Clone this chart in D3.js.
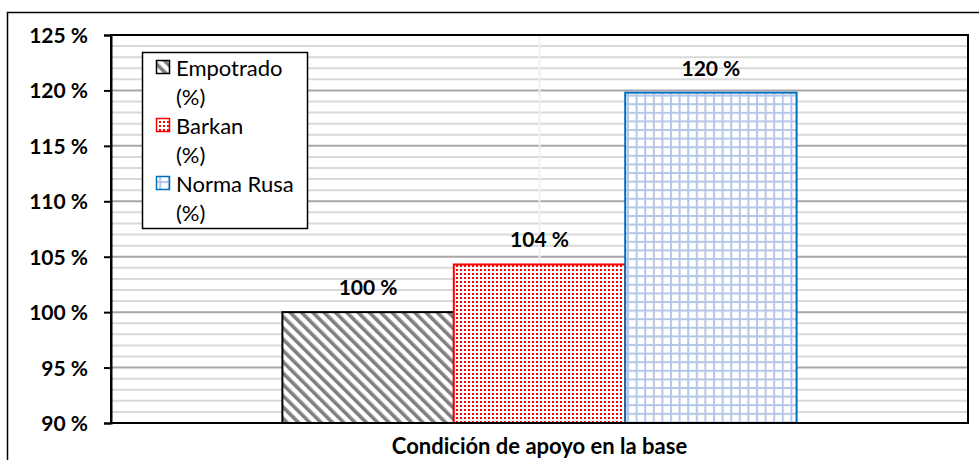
<!DOCTYPE html>
<html>
<head>
<meta charset="utf-8">
<script src="https://cdn.jsdelivr.net/npm/d3@7"></script>
<style>
  body { margin: 0; background: #fff; }
  svg text { font-family: Lato, "Open Sans", sans-serif; fill: #000; }
  .tick-label { font-weight: bold; font-size: 21px; }
  .bar-label { font-weight: bold; font-size: 21px; }
  .axis-title { font-weight: bold; font-size: 22px; }
  .legend-text { font-size: 22px; }
</style>
</head>
<body>
<svg id="chart"></svg>
<script>
// chart values
var categories = ["Condición de apoyo en la base"];
var seriesNames = ["Empotrado", "Barkan", "Norma Rusa"];
var seriesValues = [100, 104.3, 119.8];
var seriesLabels = ["100 %", "104 %", "120 %"];
var yTicks = [90, 95, 100, 105, 110, 115, 120, 125];

var w = 979, h = 460;
// plot area (note: "top" is reserved on window, so use other names)
var plotLeft = 111, plotRight = 968, plotTop = 35, plotBottom = 423;

var svg = d3.select("#chart").attr("width", w).attr("height", h);

// patterns for the bars
var defs = svg.append("defs");
var stripes = defs.append("pattern")
    .attr("id", "pat-stripes")
    .attr("patternUnits", "userSpaceOnUse")
    .attr("width", 8).attr("height", 8)
    .attr("patternTransform", "rotate(-45)");
stripes.append("rect").attr("width", 8).attr("height", 8).attr("fill", "#fff");
stripes.append("rect").attr("width", 3.6).attr("height", 8).attr("fill", "#808080");

var dots = defs.append("pattern")
    .attr("id", "pat-dots")
    .attr("patternUnits", "userSpaceOnUse")
    .attr("width", 4).attr("height", 4);
dots.append("rect").attr("width", 4).attr("height", 4).attr("fill", "#fff");
dots.append("rect").attr("x", 1).attr("y", 1).attr("width", 2).attr("height", 2).attr("fill", "#ff0000");

var grid = defs.append("pattern")
    .attr("id", "pat-grid")
    .attr("patternUnits", "userSpaceOnUse")
    .attr("width", 8.6).attr("height", 8.6);
grid.append("rect").attr("width", 8.6).attr("height", 8.6).attr("fill", "#fff");
grid.append("rect").attr("width", 2).attr("height", 8.6).attr("fill", "#b4c7e7");
grid.append("rect").attr("width", 8.6).attr("height", 2).attr("fill", "#b4c7e7");

var fills = ["url(#pat-stripes)", "url(#pat-dots)", "url(#pat-grid)"];
var strokes = ["#000", "#ff0000", "#0070c0"];

// outer frame (cut off at right/bottom like the picture)
svg.append("rect")
    .attr("x", 7.5).attr("y", 12.5)
    .attr("width", 1000).attr("height", 500)
    .attr("fill", "none").attr("stroke", "#000").attr("stroke-width", 1.5);

var x0 = d3.scaleBand().domain(categories).range([plotLeft, plotRight]).padding(0);
var x1 = d3.scaleBand().domain(seriesNames).range([0, x0.bandwidth()])
    .paddingInner(0).paddingOuter(1);
var y = d3.scaleLinear().domain([90, 125]).range([plotBottom, plotTop]);

// minor gridlines every 1 %
var minor = d3.range(91, 125).filter(function (d) { return d % 5 !== 0; });
svg.append("g").selectAll("line")
    .data(minor).enter().append("line")
    .attr("x1", plotLeft).attr("x2", plotRight)
    .attr("y1", function (d) { return y(d); })
    .attr("y2", function (d) { return y(d); })
    .attr("stroke", "#d9d9d9").attr("stroke-width", 2);

// major gridlines
svg.append("g").selectAll("line")
    .data(yTicks.slice(1, -1)).enter().append("line")
    .attr("x1", plotLeft).attr("x2", plotRight)
    .attr("y1", function (d) { return y(d); })
    .attr("y2", function (d) { return y(d); })
    .attr("stroke", "#aaa6a6").attr("stroke-width", 2);

// vertical gridline at category centre
var cx = x0(categories[0]) + x0.bandwidth() / 2;
svg.append("line")
    .attr("x1", cx).attr("x2", cx)
    .attr("y1", plotTop).attr("y2", plotBottom)
    .attr("stroke", "#f0f0f0").attr("stroke-width", 2);

// bars
var data = seriesNames.map(function (s, i) {
    return { name: s, value: seriesValues[i], label: seriesLabels[i], i: i };
});
var g = svg.append("g").attr("transform", "translate(" + x0(categories[0]) + ",0)");
g.selectAll("rect")
    .data(data).enter().append("rect")
    .attr("x", function (d) { return x1(d.name); })
    .attr("y", function (d) { return y(d.value); })
    .attr("width", x1.bandwidth())
    .attr("height", function (d) { return y(90) - y(d.value); })
    .attr("fill", function (d) { return fills[d.i]; })
    .attr("stroke", function (d) { return strokes[d.i]; })
    .attr("stroke-width", 2);

g.selectAll("text")
    .data(data).enter().append("text")
    .attr("class", "bar-label")
    .attr("x", function (d) { return x1(d.name) + x1.bandwidth() / 2; })
    .attr("y", function (d) { return y(d.value) - 17; })
    .attr("text-anchor", "middle")
    .text(function (d) { return d.label; });

// plot border
svg.append("rect")
    .attr("x", plotLeft).attr("y", plotTop)
    .attr("width", plotRight - plotLeft).attr("height", plotBottom - plotTop)
    .attr("fill", "none").attr("stroke", "#000").attr("stroke-width", 2);

// y axis
var yAxis = d3.axisLeft(y).tickValues(yTicks).tickSize(7).tickPadding(16)
    .tickFormat(function (d) { return d + " %"; });
var ya = svg.append("g").attr("transform", "translate(" + plotLeft + ",0)").call(yAxis);
ya.attr("font-size", null).attr("font-family", null);
ya.select(".domain").attr("stroke", "#000").attr("stroke-width", 2);
ya.selectAll(".tick line").attr("stroke", "#000").attr("stroke-width", 2);
ya.selectAll(".tick text").attr("class", "tick-label").attr("dy", "0.36em");

// x axis title
svg.append("text")
    .attr("class", "axis-title")
    .attr("x", cx)
    .attr("y", 454)
    .attr("text-anchor", "middle")
    .text(categories[0]);

// legend
var lg = svg.append("g").attr("transform", "translate(142,52)");
lg.append("rect").attr("x", 0.5).attr("y", 0.5).attr("width", 165).attr("height", 176)
    .attr("fill", "#fff").attr("stroke", "#000").attr("stroke-width", 1.5);
seriesNames.forEach(function (s, i) {
    var yy = 8 + i * 58;
    lg.append("rect").attr("x", 14.5).attr("y", yy + 0.5).attr("width", 13).attr("height", 13)
        .attr("fill", fills[i]).attr("stroke", strokes[i]).attr("stroke-width", 1.5);
    lg.append("text").attr("class", "legend-text").attr("x", 34).attr("y", yy + 16).text(s);
    lg.append("text").attr("class", "legend-text").attr("x", 34).attr("y", yy + 45).text("(%)");
});
</script>
</body>
</html>
